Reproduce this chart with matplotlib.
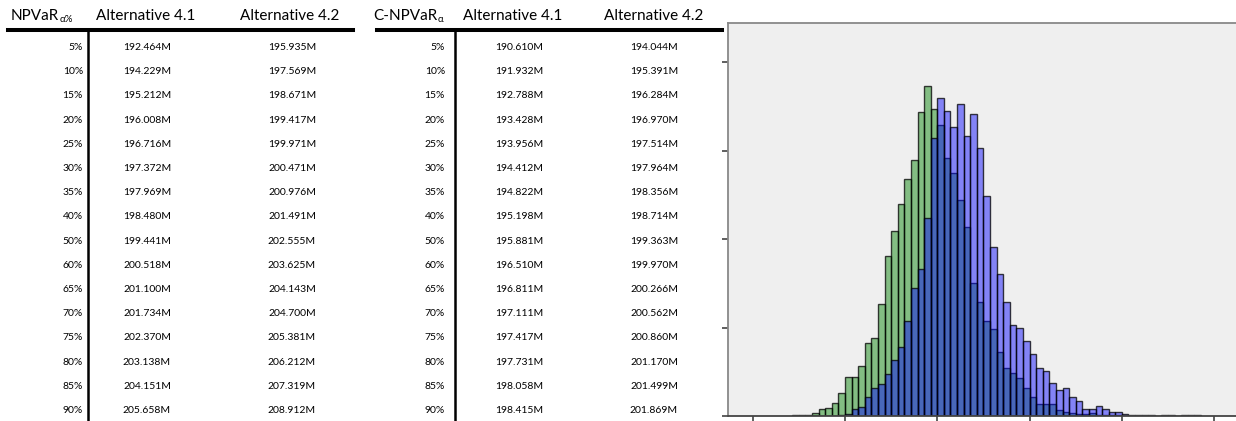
import numpy as np
import matplotlib
matplotlib.use('Agg')
import matplotlib.pyplot as plt
from matplotlib.lines import Line2D

plt.rcParams['font.family'] = ['Lato', 'DejaVu Sans']

# table data
levels = ['5%', '10%', '15%', '20%', '25%', '30%', '35%', '40%',
          '50%', '60%', '65%', '70%', '75%', '80%', '85%', '90%']

npvar_alt41 = ['192.464M', '194.229M', '195.212M', '196.008M', '196.716M', '197.372M', '197.969M', '198.480M',
               '199.441M', '200.518M', '201.100M', '201.734M', '202.370M', '203.138M', '204.151M', '205.658M']
npvar_alt42 = ['195.935M', '197.569M', '198.671M', '199.417M', '199.971M', '200.471M', '200.976M', '201.491M',
               '202.555M', '203.625M', '204.143M', '204.700M', '205.381M', '206.212M', '207.319M', '208.912M']

cnpvar_alt41 = ['190.610M', '191.932M', '192.788M', '193.428M', '193.956M', '194.412M', '194.822M', '195.198M',
                '195.881M', '196.510M', '196.811M', '197.111M', '197.417M', '197.731M', '198.058M', '198.415M']
cnpvar_alt42 = ['194.044M', '195.391M', '196.284M', '196.970M', '197.514M', '197.964M', '198.356M', '198.714M',
                '199.363M', '199.970M', '200.266M', '200.562M', '200.860M', '201.170M', '201.499M', '201.869M']

# histogram data (same bins for both alternatives)
bin_start = 190 - 8 * 10 / 14
bin_width = 10 / 14

counts_alt41 = [1, 1, 1, 3, 8, 9, 15, 26,
                44, 44, 57, 83, 88, 127, 181, 209, 240, 268, 289, 344, 373, 347, 329, 292,
                275, 244, 214, 150, 129, 107, 98, 72, 54, 49, 43, 32, 22, 13, 13, 14,
                7, 5, 3, 2, 2, 3, 1, 1, 1, 1,
                0, 0, 0, 0, 0, 0, 0, 0, 0, 0, 0, 0]
counts_alt42 = [0, 0, 0, 0, 0, 0, 0, 1,
                2, 8, 10, 22, 32, 36, 47, 63, 78, 107, 145, 166, 224, 314, 359, 345,
                327, 353, 316, 341, 303, 249, 191, 160, 129, 103, 99, 85, 70, 54, 51, 37,
                29, 32, 22, 17, 8, 8, 11, 8, 5, 5,
                2, 1, 1, 1, 1, 0, 1, 1, 0, 1, 1, 1]

W, H = 1236, 421

def fx(x):
    return x / W

def fy(y):
    return 1 - y / H

fig = plt.figure(figsize=(W / 100, H / 100), dpi=100)
renderer = fig.canvas.get_renderer()

header_size = 11
sub_size = 7
cell_size = 7.5

def draw_table(title, sub, x_title, x_line0, x_line1, x_vline, x_pct, head_x, cell_x, col_a, col_b):
    # header
    t = fig.text(fx(x_title), fy(20), title, fontsize=header_size, va='baseline', ha='left')
    bb = t.get_window_extent(renderer)
    fig.text(bb.x1 / W, fy(22.5), sub, fontsize=sub_size, va='baseline', ha='left')
    fig.text(fx(head_x[0]), fy(20), 'Alternative 4.1', fontsize=header_size, va='baseline', ha='center')
    fig.text(fx(head_x[1]), fy(20), 'Alternative 4.2', fontsize=header_size, va='baseline', ha='center')

    # thick rule under header and vertical rule
    fig.add_artist(Line2D([fx(x_line0), fx(x_line1)], [fy(29.5), fy(29.5)],
                          color='black', linewidth=2.9, transform=fig.transFigure))
    fig.add_artist(Line2D([fx(x_vline), fx(x_vline)], [fy(31), fy(H)],
                          color='black', linewidth=1.8, transform=fig.transFigure))

    # rows
    for i in range(len(levels)):
        y = 50 + 24.2 * i
        fig.text(fx(x_pct), fy(y), levels[i], fontsize=cell_size, va='baseline', ha='right')
        fig.text(fx(cell_x[0]), fy(y), col_a[i], fontsize=cell_size, va='baseline', ha='center')
        fig.text(fx(cell_x[1]), fy(y), col_b[i], fontsize=cell_size, va='baseline', ha='center')

draw_table('NPVaR', '\u03b1%', 11, 8, 353, 88, 83, (146, 290), (147, 292), npvar_alt41, npvar_alt42)
draw_table('C-NPVaR', '\u03b1', 373, 377, 722, 455, 445, (513, 654), (519, 654), cnpvar_alt41, cnpvar_alt42)

# histogram panel (runs off the right edge of the picture)
ax = fig.add_axes([fx(728), fy(416), (1242 - 728) / W, (416 - 23) / H])
ax.set_facecolor('#efefef')

edges = bin_start + bin_width * np.arange(len(counts_alt41))
ax.bar(edges, counts_alt41, width=bin_width, align='edge',
       facecolor=(0, 0.5, 0, 0.45), edgecolor=(0, 0, 0, 0.75), linewidth=1.0)
ax.bar(edges, counts_alt42, width=bin_width, align='edge',
       facecolor=(0, 0, 1, 0.45), edgecolor=(0, 0, 0, 0.75), linewidth=1.0)

px_per_unit = 92.3 / 10
ax.set_xlim(190 - (845 - 728) / px_per_unit, 190 + (1242 - 845) / px_per_unit)
ax.set_ylim(0, 100 * (416 - 23) / 88.5)
ax.set_xticks([180, 190, 200, 210, 220, 230])
ax.set_yticks([0, 100, 200, 300, 400])
ax.set_xticklabels([])
ax.set_yticklabels([])
ax.tick_params(direction='out', length=4.5, width=1.1, color='#333333')

for side in ['top', 'left', 'right']:
    ax.spines[side].set_color('#888888')
    ax.spines[side].set_linewidth(1.3)
ax.spines['bottom'].set_color('#444444')
ax.spines['bottom'].set_linewidth(1.3)

fig.savefig('out.png', dpi=100)
